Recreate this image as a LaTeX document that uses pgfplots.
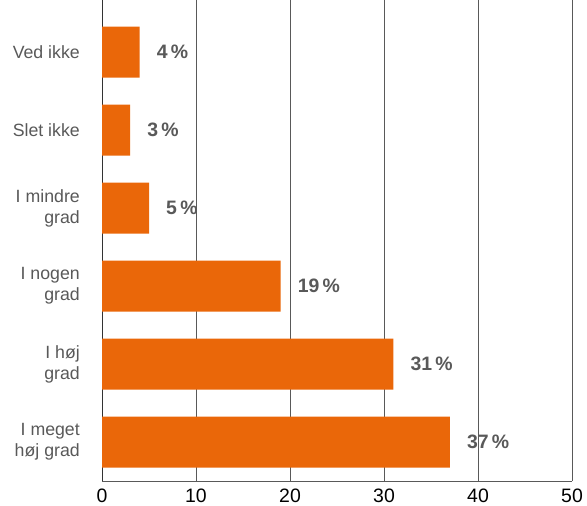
\documentclass[border=0pt]{standalone}
\usepackage{pgfplots}
\pgfplotsset{compat=1.18}
\usepackage{fontspec}
\setmainfont{Liberation Sans}
\definecolor{barc}{HTML}{EA6709}
\definecolor{txt}{HTML}{595959}
\begin{document}
\begin{tikzpicture}
\begin{axis}[
  name=ax,
  scale only axis, width=470bp, height=481bp,
  xmin=0, xmax=50, ymin=-0.5, ymax=5.67,
  xtick={0,10,...,50},
  xmajorgrids, grid style={txt, line width=0.9pt},
  ytick={0,...,5},
  yticklabels={{I meget\\høj grad},{I høj\\grad},{I nogen\ \\grad},{I mindre\\grad},{Slet ikke},{Ved ikke}},
  axis x line=bottom, axis y line=left,
  x axis line style={-, txt, line width=0.9pt},
  y axis line style={-, black!80, line width=0.9pt},
  major tick length=0pt,
  /pgf/number format/assume math mode=true,
  xticklabel style={font=\fontsize{19.5}{23}\selectfont, text=black, inner sep=0pt, yshift=-7.5bp},
  yticklabel style={font=\fontsize{17.8}{21}\selectfont, text=txt, align=right, inner xsep=0pt, xshift=-22bp},
  xbar, bar width=51bp,
  nodes near coords={\pgfmathprintnumber{\pgfplotspointmeta}\hspace{0.17em}\%},
  nodes near coords style={font=\bfseries\fontsize{19.5}{23}\selectfont, text=txt, anchor=west, inner sep=0pt, xshift=17bp},
  point meta=explicit symbolic,
]
\addplot[fill=barc, draw=none] table[meta=v] {
x y v
37 0 37
31 1 31
19 2 19
5 3 5
3 4 3
4 5 4
};
\end{axis}
\pgfresetboundingbox
\path ([xshift=-102bp,yshift=-24bp]ax.south west) rectangle ([xshift=15bp]ax.north east);
\end{tikzpicture}
\end{document}
